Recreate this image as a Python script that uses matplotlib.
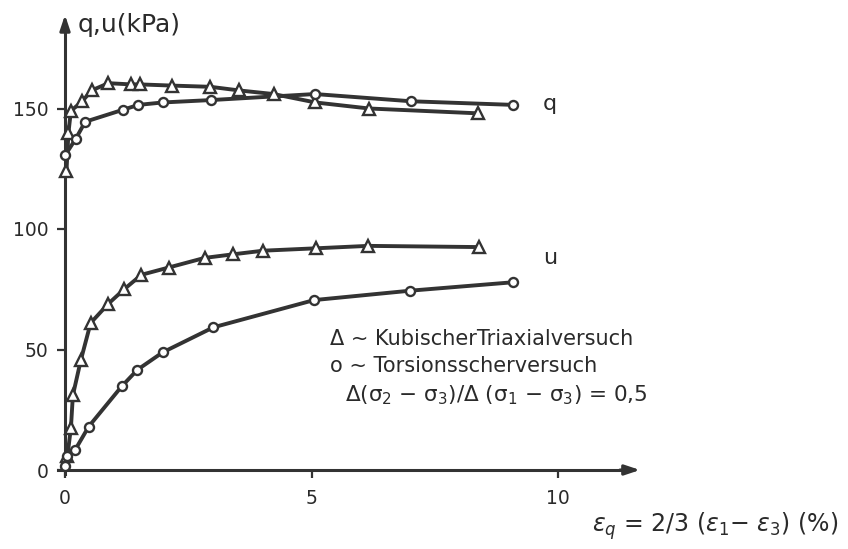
import matplotlib
matplotlib.use("Agg")
import matplotlib.pyplot as plt

# q curves (upper)
q_tri_x = [0.03, 0.07, 0.12, 0.35, 0.54, 0.88, 1.34, 1.52, 2.18, 2.95, 3.53, 4.23, 5.08, 6.17, 8.37]
q_tri_y = [124, 140, 149, 153, 157.5, 160.5, 160, 160, 159.5, 159, 157.5, 156, 152.5, 150, 148]
q_circ_x = [0.0, 0.22, 0.41, 1.18, 1.49, 1.98, 2.96, 5.07, 7.02, 9.09]
q_circ_y = [130.5, 137.5, 144.5, 149.5, 151.5, 152.5, 153.5, 156, 153, 151.5]

# u curves (lower)
u_tri_x = [0.05, 0.12, 0.16, 0.32, 0.52, 0.88, 1.2, 1.55, 2.1, 2.83, 3.41, 4.02, 5.1, 6.15, 8.4]
u_tri_y = [6, 17.5, 31, 45.5, 61, 69, 75, 81, 84, 88, 89.5, 91, 92, 93, 92.5]
u_circ_x = [0.0, 0.05, 0.21, 0.48, 1.15, 1.47, 1.98, 3.01, 5.05, 7.0, 9.09]
u_circ_y = [1.5, 6, 8.5, 18, 34.7, 41.6, 48.8, 59.2, 70.5, 74.4, 77.9]

x_ticks = [0, 5, 10]
y_ticks = [0, 50, 100, 150]

ink = "#333333"
txt = "#2a2a2a"

plt.rcParams["font.family"] = ["DejaVu Sans"]
plt.rcParams["mathtext.fontset"] = "dejavusans"

fig = plt.figure(figsize=(8.48, 5.49), dpi=100)
ax = fig.add_axes([0, 0, 1, 1])
# pixel scale: 49.3 px per % strain, 2.41 px per kPa, origin at (65, 470)
ax.set_xlim(-65 / 49.3, 783 / 49.3)
ax.set_ylim(-79 / 2.41, 470 / 2.41)

# connecting curves (u triangle curve starts at the origin)
ax.plot(q_tri_x, q_tri_y, color=ink, lw=2.8, zorder=2)
ax.plot(q_circ_x, q_circ_y, color=ink, lw=2.8, zorder=2)
ax.plot([0] + u_tri_x, [0] + u_tri_y, color=ink, lw=2.8, zorder=2)
ax.plot(u_circ_x, u_circ_y, color=ink, lw=2.8, zorder=2)

# measured points
for xs, ys in [(q_tri_x, q_tri_y), (u_tri_x, u_tri_y)]:
    ax.plot(xs, ys, ls="none", marker="^", ms=9, mfc="white", mec=ink, mew=1.7, zorder=3)
for xs, ys in [(q_circ_x, q_circ_y), (u_circ_x, u_circ_y)]:
    ax.plot(xs, ys, ls="none", marker="o", ms=6.5, mfc="white", mec=ink, mew=1.7, zorder=3)

# axes through the origin, with arrowheads
for s in ["top", "right"]:
    ax.spines[s].set_visible(False)
ax.spines["left"].set_position(("data", 0))
ax.spines["bottom"].set_position(("data", 0))
ax.spines["left"].set_bounds(-1.5, 184)
ax.spines["bottom"].set_bounds(-0.15, 11.3)
for s in ["left", "bottom"]:
    ax.spines[s].set_linewidth(2.2)
    ax.spines[s].set_color(ink)
ax.annotate("", xy=(11.72, 0), xytext=(11.2, 0),
            arrowprops=dict(arrowstyle="-|>,head_length=0.9,head_width=0.3",
                            color=ink, lw=2.2))
ax.annotate("", xy=(0, 190), xytext=(0, 182),
            arrowprops=dict(arrowstyle="-|>,head_length=0.9,head_width=0.3",
                            color=ink, lw=2.2))

ax.set_xticks(x_ticks)
ax.set_yticks(y_ticks)
ax.tick_params(direction="out", length=6, width=1.6, color=ink,
               labelsize=13.5, labelcolor=txt)
ax.tick_params(axis="x", pad=8)
ax.tick_params(axis="y", pad=6)

ax.text(0.25, 184.5, "q,u(kPa)", fontsize=18, color=txt, va="center")
ax.text(10.69, -23.5,
        r"$\varepsilon_q$ = 2/3 ($\varepsilon_1$$-$ $\varepsilon_3$) (%)",
        fontsize=17, color=txt, va="center")

ax.text(9.7, 152, "q", fontsize=16, color=txt, va="center")
ax.text(9.7, 88, "u", fontsize=16, color=txt, va="center")

ax.text(5.38, 54.5, "Δ ~ KubischerTriaxialversuch", fontsize=15, color=txt, va="center")
ax.text(5.38, 43, "o ~ Torsionsscherversuch", fontsize=15, color=txt, va="center")
ax.text(5.68, 31, "Δ(σ$_2$ − σ$_3$)/Δ (σ$_1$ − σ$_3$) = 0,5",
        fontsize=15.5, color=txt, va="center")

fig.savefig("out.png", dpi=100)
